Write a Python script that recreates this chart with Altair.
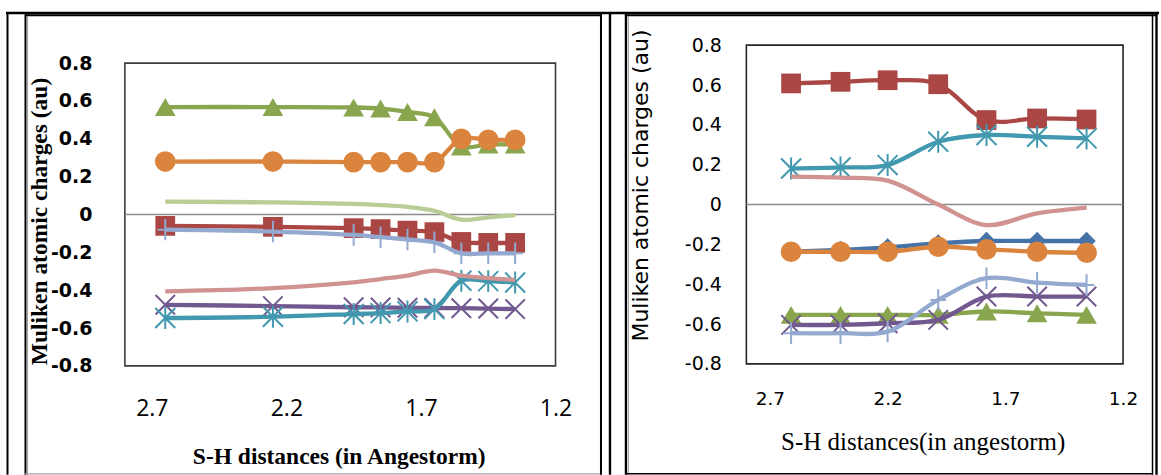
import altair as alt
import pandas as pd

# ---------------- data: left panel ----------------
LEFT_X = [2.65, 2.25, 1.95, 1.85, 1.75, 1.65, 1.55, 1.45, 1.35]
LEFT_RED = [-0.060, -0.065, -0.072, -0.077, -0.085, -0.093, -0.145, -0.150, -0.150]
LEFT_GREEN = [0.568, 0.568, 0.566, 0.560, 0.542, 0.514, 0.360, 0.370, 0.370]
LEFT_PURPLE = [-0.477, -0.484, -0.490, -0.491, -0.493, -0.494, -0.495, -0.497, -0.500]
LEFT_TEAL = [-0.547, -0.540, -0.526, -0.521, -0.512, -0.500, -0.350, -0.352, -0.359]
LEFT_ORANGE = [0.280, 0.280, 0.277, 0.277, 0.277, 0.277, 0.400, 0.395, 0.395]
LEFT_LIGHTBLUE = [-0.080, -0.090, -0.108, -0.120, -0.132, -0.147, -0.205, -0.205, -0.205]
LEFT_PINK = [-0.406, -0.389, -0.359, -0.341, -0.323, -0.297, -0.323, -0.336, -0.346]
LEFT_LIGHTGREEN = [0.068, 0.064, 0.056, 0.050, 0.040, 0.020, -0.027, -0.015, -0.003]

# ---------------- data: right panel ----------------
RIGHT_X = [2.61, 2.40, 2.20, 1.985, 1.78, 1.565, 1.355]
RIGHT_BLUE = [-0.237, -0.228, -0.215, -0.195, -0.183, -0.183, -0.183]
RIGHT_RED = [0.608, 0.616, 0.624, 0.604, 0.424, 0.432, 0.427]
RIGHT_GREEN = [-0.554, -0.554, -0.554, -0.554, -0.537, -0.546, -0.554]
RIGHT_PURPLE = [-0.604, -0.604, -0.596, -0.579, -0.462, -0.462, -0.462]
RIGHT_TEAL = [0.181, 0.186, 0.198, 0.315, 0.349, 0.340, 0.332]
RIGHT_ORANGE = [-0.237, -0.237, -0.237, -0.212, -0.225, -0.237, -0.242]
RIGHT_LIGHTBLUE = [-0.646, -0.646, -0.638, -0.479, -0.370, -0.392, -0.404]
RIGHT_PINK = [0.140, 0.135, 0.120, 0.000, -0.103, -0.044, -0.015]

X_TICKS = [1.2, 1.7, 2.2, 2.7]
Y_TICKS = [-0.8, -0.6, -0.4, -0.2, 0, 0.2, 0.4, 0.6, 0.8]
Y_TITLE = "Muliken atomic charges (au)"
LEFT_X_TITLE = "S-H distances (in Angestorm)"
RIGHT_X_TITLE = "S-H distances(in angestorm)"

# ---------------- styles ----------------
COL = {
    "blue": "#4572A7", "red": "#AA4643", "green": "#89A54E", "purple": "#71588F",
    "teal": "#4198AF", "orange": "#DB843D", "lightblue": "#93A9CF",
    "pink": "#D19392", "lightgreen": "#B9CD96",
}
PATHS = {
    "x": "M-1,-1L1,1M1,-1L-1,1",
    "ast": "M-1,-1L1,1M1,-1L-1,1M0,-1.1L0,1.1",
    "plus": "M-0.8,0L0.8,0M0,-1.1L0,1.1",
}
SIZES = {"square": 390, "circle": 430, "triangle-up": 430, "diamond": 340,
         "x": 380, "ast": 400, "plus": 380}

LEFT_W, LEFT_H = 431, 321      # plot frame occupies y 18..321 of this view
LEFT_OX, LEFT_OY = 125, 45     # absolute origin of left view
RIGHT_W, RIGHT_H = 377, 319

label_expr = "'' + datum.value"


def series_layers(xs, ys, color, shape, x_enc, y_enc):
    df = pd.DataFrame({"x": xs, "y": ys})
    base = alt.Chart(df).encode(x=x_enc, y=y_enc)
    out = [base.mark_line(color=color, strokeWidth=4.3, interpolate="catmull-rom")]
    if shape is not None:
        if shape in PATHS:
            out.append(base.mark_point(shape=PATHS[shape], filled=False, color=color,
                                       strokeWidth=2, size=SIZES[shape], opacity=1))
        else:
            out.append(base.mark_point(shape=shape, filled=True, color=color,
                                       size=SIZES[shape], opacity=1))
    return out


def seg(x1, y1, x2, y2, color, width):
    return alt.Chart(pd.DataFrame({"a": [0]})).mark_rule(
        color=color, strokeWidth=width).encode(
        x=alt.value(x1), x2=alt.value(x2), y=alt.value(y1), y2=alt.value(y2))


def rect(x1, y1, x2, y2, stroke, width, fill_opacity=0):
    return alt.Chart(pd.DataFrame({"a": [0]})).mark_rect(
        fill="white", fillOpacity=fill_opacity, stroke=stroke, strokeWidth=width).encode(
        x=alt.value(x1), x2=alt.value(x2), y=alt.value(y1), y2=alt.value(y2))


# ---------------- left chart ----------------
lx = alt.X("x:Q", scale=alt.Scale(domain=[1.2, 2.8], reverse=True, nice=False, zero=False),
           axis=alt.Axis(values=X_TICKS, format=".1f", ticks=False, domain=False, grid=False,
                         labelFlush=False, labelOverlap=False, labelFont="Open Sans",
                         labelFontSize=23, labelColor="black", labelPadding=32,
                         titleFont="Liberation Serif", titleFontSize=23.5, titleFontWeight="bold",
                         titleColor="black", titleX=214, titleY=91, titleBaseline="middle",
                         titleAlign="center", zindex=1),
           title=LEFT_X_TITLE)
ly = alt.Y("y:Q", scale=alt.Scale(domain=[-0.8, 0.8], range=[LEFT_H, 18], nice=False, zero=False),
           axis=alt.Axis(values=Y_TICKS, labelExpr=label_expr, ticks=False, domain=False,
                         grid=False, labelFlush=False, labelOverlap=False,
                         labelFont="DejaVu Sans", labelFontWeight="bold", labelFontSize=19,
                         labelColor="black", labelPadding=33,
                         titleFont="Liberation Serif", titleFontSize=23.5,
                         titleFontWeight="bold", titleColor="black",
                         titleX=40 - LEFT_OX, titleY=221 - LEFT_OY,
                         titleBaseline="middle", titleAlign="center", zindex=1),
           title=Y_TITLE)


def A(x, y):
    return x - LEFT_OX, y - LEFT_OY


def abs_seg(x1, y1, x2, y2, color, width):
    a = A(x1, y1)
    b = A(x2, y2)
    return seg(a[0], a[1], b[0], b[1], color, width)


# invisible rectangle spanning the whole canvas (fixes the page extent)
bg = rect(-LEFT_OX, -LEFT_OY, 1161 - LEFT_OX, 475 - LEFT_OY, "white", 0, 0)

borders = [
    abs_seg(6, 12.8, 1160, 12.8, "black", 2.4),
    abs_seg(7.5, 12, 7.5, 475, "black", 2),
    abs_seg(25, 15, 602, 15, "black", 2),
    abs_seg(25.5, 14, 25.5, 475, "black", 2),
    abs_seg(27.5, 16, 27.5, 475, "#a0a0a0", 1),
    abs_seg(25, 474, 602, 474, "#a0a0a0", 1.2),
    abs_seg(601.5, 12, 601.5, 475, "black", 2),
    abs_seg(610.5, 12, 610.5, 475, "black", 2.4),
    abs_seg(627, 15, 1157, 15, "black", 2),
    abs_seg(626.5, 13, 626.5, 475, "black", 2.4),
    abs_seg(629, 16, 629, 475, "#a8a8a8", 1),
    abs_seg(627, 474, 1154, 474, "black", 1.5),
    abs_seg(1153.5, 13, 1153.5, 475, "black", 1.5),
    abs_seg(1157.5, 12, 1157.5, 475, "black", 2.4),
]

left_frame = rect(0, 18, LEFT_W, LEFT_H, "#3c3c3c", 1.6)
left_zero = alt.Chart(pd.DataFrame({"y": [0.0]})).mark_rule(color="#8c8c8c", strokeWidth=1.5).encode(
    y=ly, x=alt.value(0), x2=alt.value(LEFT_W))

left_series = [
    ("red", LEFT_RED, "square"),
    ("green", LEFT_GREEN, "triangle-up"),
    ("purple", LEFT_PURPLE, "x"),
    ("teal", LEFT_TEAL, "ast"),
    ("orange", LEFT_ORANGE, "circle"),
    ("lightblue", LEFT_LIGHTBLUE, "plus"),
    ("pink", LEFT_PINK, None),
    ("lightgreen", LEFT_LIGHTGREEN, None),
]
left_layers = [bg] + borders + [left_frame, left_zero]
for name, vals, shape in left_series:
    left_layers += series_layers(LEFT_X, vals, COL[name], shape, lx, ly)

left = alt.layer(*left_layers).properties(width=LEFT_W, height=LEFT_H)

# ---------------- right chart ----------------
rx = alt.X("x:Q", scale=alt.Scale(domain=[1.2, 2.8], reverse=True, nice=False, zero=False),
           axis=alt.Axis(values=X_TICKS, format=".1f", ticks=False, domain=False, grid=False,
                         labelFlush=False, labelOverlap=False, labelFont="DejaVu Sans",
                         labelFontSize=18.5, labelColor="black", labelPadding=26,
                         titleFont="Liberation Serif", titleFontSize=25, titleFontWeight="normal",
                         titleColor="black", titleX=923.5 - 747, titleY=442 - 364,
                         titleBaseline="middle", titleAlign="center", zindex=1),
           title=RIGHT_X_TITLE)
ry = alt.Y("y:Q", scale=alt.Scale(domain=[-0.8, 0.8], nice=False, zero=False),
           axis=alt.Axis(values=Y_TICKS, labelExpr=label_expr, ticks=False, domain=False,
                         grid=False, labelFlush=False, labelOverlap=False,
                         labelFont="DejaVu Sans", labelFontSize=19, labelColor="black",
                         labelPadding=25, titleFont="DejaVu Sans", titleFontSize=22,
                         titleFontWeight="normal", titleColor="black",
                         titleX=641 - 747, titleY=185 - 45,
                         titleBaseline="middle", titleAlign="center", zindex=1),
           title=Y_TITLE)

right_frame = rect(0, 0, RIGHT_W, RIGHT_H, "#262626", 1.6)
right_zero = alt.Chart(pd.DataFrame({"y": [0.0]})).mark_rule(color="#8c8c8c", strokeWidth=1.5).encode(
    y=ry, x=alt.value(0), x2=alt.value(RIGHT_W))

right_series = [
    ("blue", RIGHT_BLUE, "diamond"),
    ("red", RIGHT_RED, "square"),
    ("green", RIGHT_GREEN, "triangle-up"),
    ("purple", RIGHT_PURPLE, "x"),
    ("teal", RIGHT_TEAL, "ast"),
    ("orange", RIGHT_ORANGE, "circle"),
    ("lightblue", RIGHT_LIGHTBLUE, "plus"),
    ("pink", RIGHT_PINK, None),
]
right_layers = [right_frame, right_zero]
for name, vals, shape in right_series:
    right_layers += series_layers(RIGHT_X, vals, COL[name], shape, rx, ry)

right = alt.layer(*right_layers).properties(width=RIGHT_W, height=RIGHT_H)

chart = alt.hconcat(left, right, spacing=747 - 125 - LEFT_W, bounds="flush", padding=0,
                    background="white").configure_view(strokeWidth=0)

chart.save("out.html", embed_options={"renderer": "svg", "actions": False})
